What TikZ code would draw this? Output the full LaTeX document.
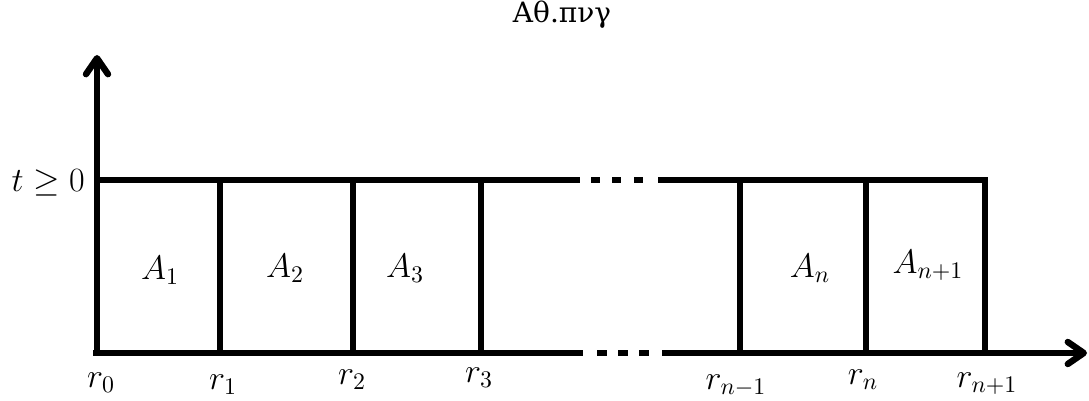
\RequirePackage{fix-cm}
\documentclass[tikz,border=0pt]{standalone}
\usepackage{fontspec}
\newfontfamily\titlefont{DejaVu Serif}
\usetikzlibrary{arrows.meta}
\begin{document}
\begin{tikzpicture}[x=0.5pt,y=-0.5pt,
  thick line/.style={line width=3.2pt},
  axisarrow/.style={thick line,-{Straight Barb[round,length=8pt,width=11pt]}},
  lbl/.style={inner sep=0pt,font=\fontsize{17}{20}\selectfont},
  ttl/.style={inner sep=0pt,font=\titlefont\fontsize{14}{16}\selectfont}]
\useasboundingbox (0,0) rectangle (1089,401);
% title
\node[ttl,anchor=base] (title) at (562,23) {Αθ.πνγ};
% key coordinates
\coordinate (yb) at (97,356);
\coordinate (yt) at (97,55);
\coordinate (xl) at (93,353);
\coordinate (xr) at (1087,353);
\foreach \n/\x in {0/97,1/220,2/353,3/481,m/740,n/866,p/985}{
  \coordinate (t\n) at (\x,180);
  \coordinate (b\n) at (\x,353);
}
\coordinate (tA) at (580,180); \coordinate (tB) at (658,180);
\coordinate (bA) at (583,353); \coordinate (bB) at (662,353);
% axes
\draw[axisarrow] (yb) -- (yt);
\draw[thick line] (xl) -- (bA);
\draw[axisarrow] (bB) -- (xr);
% top line
\draw[thick line] (t0) -- (tA);
\draw[thick line] (tB) -- (tp) -- (bp);
% dots
\foreach \x in {591,612,634}{\draw[thick line] (\x,180) -- ++(9,0);}
\foreach \x in {597,618,639}{\draw[thick line] (\x,353) -- ++(10,0);}
% verticals
\foreach \n in {1,2,3,m,n}{\draw[thick line] (t\n) -- (b\n);}
% labels
\node[lbl,anchor=east] (tl) at (85,183) {$t\geq 0$};
\node[lbl] (A1) at (160,270) {$A_1$};
\node[lbl] (A2) at (285,268) {$A_2$};
\node[lbl] (A3) at (405,268) {$A_3$};
\node[lbl] (An) at (810,268) {$A_n$};
\node[lbl] (Anp) at (928,265) {$A_{n+1}$};
\node[lbl] (r0) at (101,383) {$r_0$};
\node[lbl] (r1) at (223,385) {$r_1$};
\node[lbl] (r2) at (352,380) {$r_2$};
\node[lbl] (r3) at (479,378) {$r_3$};
\node[lbl] (rm) at (736,386) {$r_{n-1}$};
\node[lbl] (rn) at (863,380) {$r_n$};
\node[lbl] (rp) at (987,384) {$r_{n+1}$};
\end{tikzpicture}
\end{document}
